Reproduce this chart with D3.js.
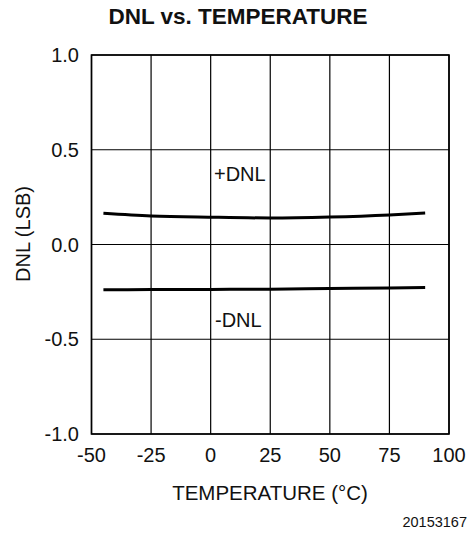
<!DOCTYPE html>
<html>
<head>
<meta charset="utf-8">
<script src="https://cdn.jsdelivr.net/npm/d3@7"></script>
<style>
  body { margin: 0; background: #fff; }
  text { font-family: "Liberation Sans", Arial, sans-serif; fill: #111; }
</style>
</head>
<body>
<svg id="chart" width="472" height="533"></svg>
<script>
// values
var temps = [-45, -25, 0, 25, 50, 75, 90];
var dnlPos = [0.165, 0.151, 0.144, 0.140, 0.145, 0.156, 0.166];
var dnlNeg = [-0.239, -0.238, -0.237, -0.236, -0.232, -0.229, -0.227];
var xTicks = [-50, -25, 0, 25, 50, 75, 100];
var yTicks = [-1.0, -0.5, 0.0, 0.5, 1.0];

var svg = d3.select("#chart");
var x = d3.scaleLinear().domain([-50, 100]).range([91.5, 449]);
var y = d3.scaleLinear().domain([-1, 1]).range([434, 55]);

svg.append("text")
    .attr("x", 238)
    .attr("y", 24)
    .attr("font-size", "22.5px")
    .attr("font-weight", "bold")
    .style("text-anchor", "middle")
    .text("DNL vs. TEMPERATURE");

// grid
svg.append("g").selectAll("line")
    .data(xTicks)
  .enter().append("line")
    .attr("x1", d => x(d)).attr("x2", d => x(d))
    .attr("y1", y(-1)).attr("y2", y(1))
    .attr("stroke", "#000").attr("stroke-width", 1.2);
svg.append("g").selectAll("line")
    .data(yTicks)
  .enter().append("line")
    .attr("x1", x(-50)).attr("x2", x(100))
    .attr("y1", d => y(d)).attr("y2", d => y(d))
    .attr("stroke", "#000").attr("stroke-width", 1.2);

svg.append("rect")
    .attr("x", x(-50)).attr("y", y(1))
    .attr("width", x(100) - x(-50)).attr("height", y(-1) - y(1))
    .attr("fill", "none").attr("stroke", "#000").attr("stroke-width", 1.6);

// tick labels (plain hyphen minus like the original)
var fmt = d => d3.format(".1f")(d).replace("\u2212", "-");
svg.append("g").selectAll("text")
    .data(xTicks)
  .enter().append("text")
    .attr("x", d => x(d))
    .attr("y", 462)
    .attr("font-size", "20px")
    .style("text-anchor", "middle")
    .text(d => String(d));
svg.append("g").selectAll("text")
    .data(yTicks)
  .enter().append("text")
    .attr("x", 79)
    .attr("y", d => y(d) + 7)
    .attr("font-size", "20px")
    .style("text-anchor", "end")
    .text(fmt);

svg.append("text")
    .attr("x", 270)
    .attr("y", 500)
    .attr("font-size", "20.5px")
    .style("text-anchor", "middle")
    .text("TEMPERATURE (°C)");

svg.append("text")
    .attr("transform", "translate(30,234) rotate(-90)")
    .attr("font-size", "20px")
    .style("text-anchor", "middle")
    .text("DNL (LSB)");

svg.append("text")
    .attr("x", 467)
    .attr("y", 527)
    .attr("font-size", "14.5px")
    .style("text-anchor", "end")
    .text("20153167");

// curves
var line = d3.line()
    .x((d, i) => x(temps[i]))
    .y(d => y(d))
    .curve(d3.curveMonotoneX);
[dnlPos, dnlNeg].forEach(s => {
  svg.append("path")
      .attr("d", line(s))
      .attr("fill", "none")
      .attr("stroke", "#000")
      .attr("stroke-width", 3);
});

svg.append("text")
    .attr("x", 214).attr("y", 181)
    .attr("font-size", "20px")
    .text("+DNL");
svg.append("text")
    .attr("x", 215).attr("y", 327)
    .attr("font-size", "20px")
    .text("-DNL");
</script>
</body>
</html>
